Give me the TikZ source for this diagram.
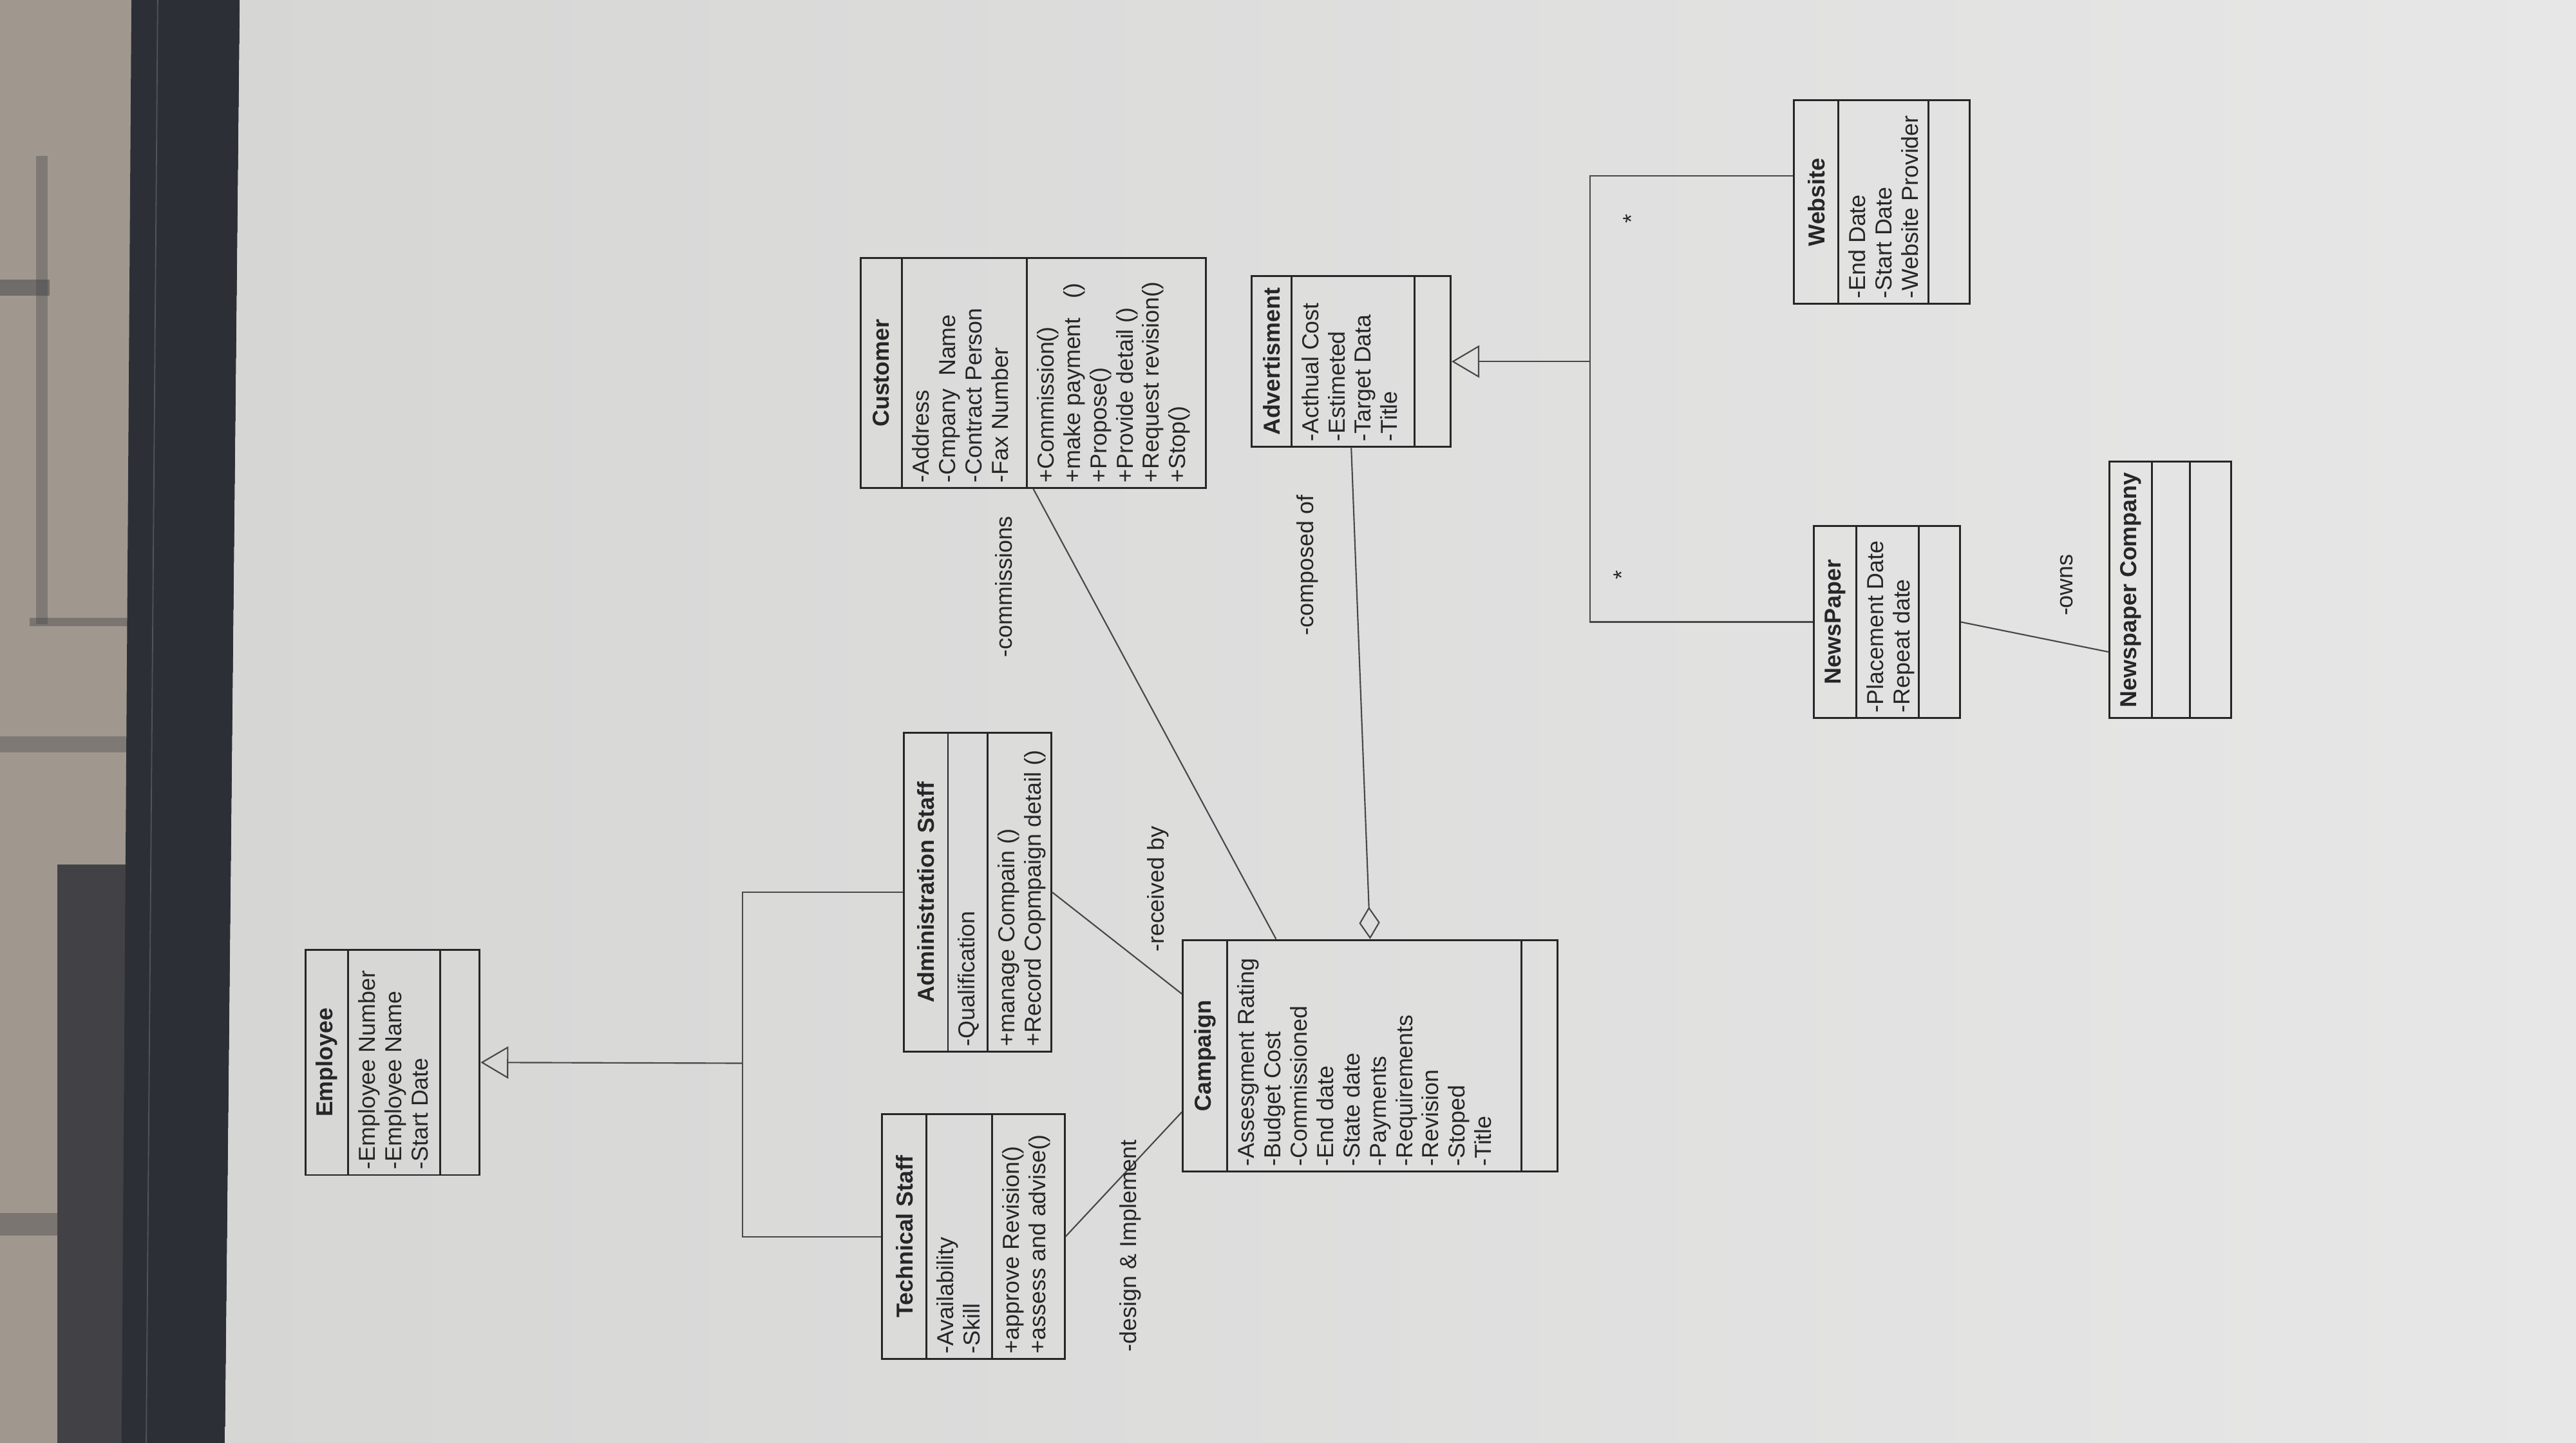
\documentclass[tikz,border=0pt]{standalone}
\usepackage{fontspec}
\setmainfont{Liberation Sans}
\usetikzlibrary{arrows.meta,fit,calc}

\definecolor{roomtone}{RGB}{160,152,143}
\definecolor{roomshade}{RGB}{66,66,70}
\definecolor{bezel}{RGB}{44,48,54}
\definecolor{screenleft}{RGB}{214,214,213}
\definecolor{screenmid}{RGB}{238,238,237}
\definecolor{screenright}{RGB}{231,231,231}
\definecolor{ink}{RGB}{38,38,40}
\definecolor{wire}{RGB}{72,72,74}

\begin{document}
\begin{tikzpicture}
  [x=0.025cm,y=-0.025cm,
  classdecorate/.style={draw=ink,line width=0.8pt,inner sep=0pt},
  titledecorate/.style={rotate=90,inner sep=0pt,text=ink,font=\fontsize{10}{12}\selectfont\bfseries},
  listdecorate/.style={rotate=90,anchor=north west,align=left,inner sep=0pt,text=ink,font=\fontsize{10}{11.4}\selectfont},
  linkdecorate/.style={-,draw=wire,line width=0.6pt},
  labeldecorate/.style={rotate=90,inner sep=0pt,text=ink,font=\fontsize{10}{12}\selectfont}]
  \useasboundingbox (0,0) rectangle (1568,878);

  %% room, monitor frame and screen
  \fill[roomtone] (0,0) rectangle (80,878);
  \fill[roomshade,opacity=0.5] (0,170) rectangle (30,180);
  \fill[roomshade,opacity=0.35] (22,95) rectangle (29,380);
  \fill[roomshade,opacity=0.4] (18,376) rectangle (80,381);
  \fill[roomshade,opacity=0.35] (0,448) rectangle (80,458);
  \fill[roomshade,opacity=0.4] (0,738) rectangle (35,752);
  \fill[roomshade] (35,526) rectangle (80,878);
  \fill[bezel] (80,0) -- (146,0) -- (137,878) -- (74,878) -- cycle;
  \draw[gray!45!bezel,line width=0.5pt] (96,0) -- (89,878);
  \shade[left color=screenleft,middle color=screenmid,right color=screenright]
    (146,0) -- (1568,0) -- (1568,878) -- (137,878) -- cycle;

  %% classes: box, compartments, name
  \foreach \nodename/\xa/\ya/\xb/\yb/\da/\db/\title in {
    employee/186/578/292/715/212/268/Employee,
    admin/550/446/640/640/577/601/Administration Staff,
    tech/537/678/648/827/564/604/Technical Staff,
    campaign/720/572/948/713/747/926/Campaign,
    customer/524/157/734/297/549/625/Customer,
    advert/762/168/883/272/786/861/Advertisment,
    website/1092/61/1199/185/1119/1174/Website,
    newspaper/1104/320/1193/437/1130/1168/NewsPaper,
    company/1284/281/1358/437/1310/1333/Newspaper Company}
  {
    \node (\nodename) [classdecorate,fit={(\xa,\ya) (\xb,\yb)}] {};
    \draw[classdecorate] (\da,\ya) -- (\da,\yb) (\db,\ya) -- (\db,\yb);
    \node (\nodename-title) [titledecorate] at ({(\xa+\da)/2},{(\ya+\yb)/2}) {\title};
  }

  %% attributes and operations
  \foreach \nodename/\x/\y/\lines in {
    employee-attr/218/712/{-Employee Number\\-Employee Name\\-Start Date},
    admin-attr/583/637/{-Qualification},
    admin-ops/607/637/{+manage Compain ()\\+Record Copmpaign detail ()},
    tech-attr/570/824/{-Availability\\-Skill},
    tech-ops/610/824/{+approve Revision()\\+assess and advise()},
    campaign-attr/753/710/{-Assesgment Rating\\-Budget Cost\\-Commissioned\\-End date\\-State date\\-Payments\\-Requirements\\-Revision\\-Stoped\\-Title},
    customer-attr/555/294/{-Address\\-Cmpany\ \ Name\\-Contract Person\\-Fax Number},
    customer-ops/631/294/{+Commission()\\+make payment\ \ \ ()\\+Propose()\\+Provide detail ()\\+Request revision()\\+Stop()},
    advert-attr/792/269/{-Acthual Cost\\-Estimeted\\-Target Data\\-Title},
    website-attr/1125/182/{-End Date\\-Start Date\\-Website Provider},
    newspaper-attr/1136/434/{-Placement Date\\-Repeat date}}
  {
    \node (\nodename) [listdecorate] at (\x,\y) {\lines};
  }

  %% joints and ports
  \coordinate (staffjoin) at (452,647);
  \coordinate (adjoin) at (968,220);
  \coordinate (webtap) at (968,107);
  \coordinate (campaign-top) at ($(campaign.north west)!0.25!(campaign.north east)$);
  \coordinate (campaign-high) at ($(campaign.north west)!0.235!(campaign.south west)$);
  \coordinate (campaign-low) at ($(campaign.north west)!0.74!(campaign.south west)$);
  \coordinate (company-port) at ($(company.north west)!0.74!(company.south west)$);

  %% inheritance
  \draw[linkdecorate,-{Triangle[open,length=12pt,width=14pt]}] (staffjoin) -- (employee.east);
  \draw[linkdecorate] (admin.west) -- (admin.west -| staffjoin) -- (tech.west -| staffjoin) -- (tech.west);
  \draw[linkdecorate,-{Triangle[open,length=12pt,width=14pt]}] (adjoin) -- (advert.east);
  \draw[linkdecorate] (webtap -| website.west) -- (webtap) -- (adjoin |- newspaper.west) -- (newspaper.west);

  %% associations
  \draw[linkdecorate,-{Diamond[open,length=14pt,width=9pt]}] (advert.south) -- (campaign.north);
  \path
  \foreach \startnode/\endnode in {customer.south/campaign-top, admin.east/campaign-high,
    tech.east/campaign-low, newspaper.east/company-port}
  {
    (\startnode) edge[linkdecorate] (\endnode)
  };

  %% role names and multiplicities
  \foreach \nodename/\x/\y/\words in {
    design-label/688/758/{-design \& Implement},
    received-label/705/541/{-received by},
    commissions-label/611/357/{-commissions},
    composed-label/796/344/{-composed of},
    owns-label/1258/356/{-owns},
    webstar/993/133/{*},
    paperstar/987/350/{*}}
  {
    \node (\nodename) [labeldecorate] at (\x,\y) {\words};
  }
\end{tikzpicture}
\end{document}
